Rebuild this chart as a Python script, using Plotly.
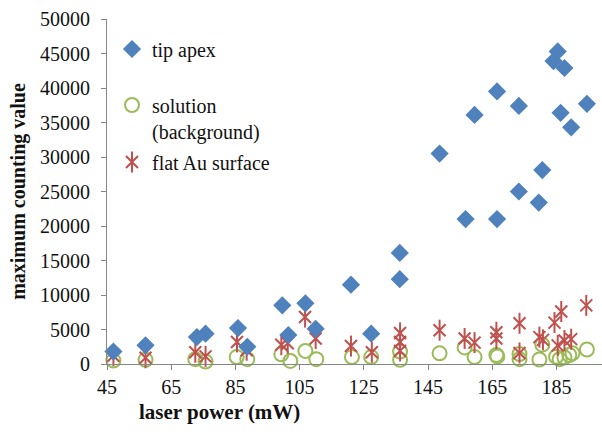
import plotly.graph_objects as go

# tip apex
tip_x = [47, 57, 73, 75.7, 85.8, 88.7, 99.6, 101.5, 106.8, 110, 121, 127.3, 136.2, 136.2,
         148.6, 156.7, 159.5, 166.5, 166.5, 173.3, 173.3, 179.5, 180.6, 184.1, 185.4, 186.3,
         187.5, 189.6, 194.5]
tip_y = [1800, 2700, 3900, 4400, 5200, 2500, 8500, 4200, 8800, 5100, 11500, 4400, 16100, 12300,
         30500, 21000, 36100, 21000, 39500, 25000, 37400, 23400, 28100, 43900, 45300, 36400,
         42900, 34300, 37700]

# solution (background)
sol_x = [47, 57, 72.5, 75.7, 85.4, 88.7, 99.3, 102.1, 106.8, 110.2, 121.3, 127.3, 136.3, 136.3,
         148.6, 156.4, 159.5, 166.3, 166.6, 173.5, 173.5, 179.7, 180.6, 184.9, 186, 187.5,
         189, 190, 194.5]
sol_y = [500, 600, 700, 350, 1000, 700, 1400, 450, 1900, 700, 1000, 1000, 1800, 600,
         1550, 2400, 1000, 1300, 1100, 1450, 700, 650, 2800, 1050, 700, 950,
         1300, 1550, 2100]

# flat Au surface
au_x = [47, 57, 72.5, 75.7, 85.5, 88.5, 99.3, 101.3, 106.7, 110, 121, 127.5, 136.3, 136.3, 136.3,
        148.6, 156.4, 159.5, 166.3, 166.3, 173.5, 173.5, 179.7, 180.8, 184.4, 186.5, 185.4,
        187.5, 189.6, 194.3]
au_y = [1200, 900, 1700, 1100, 3200, 2000, 2800, 3000, 6800, 3700, 2600, 1700, 4500, 3200, 1900,
        4900, 3700, 3100, 4600, 3700, 5900, 1600, 3900, 3500, 6000, 7600, 2700,
        3400, 3600, 8500]

x_ticks = [45, 65, 85, 105, 125, 145, 165, 185]
y_ticks = [0, 5000, 10000, 15000, 20000, 25000, 30000, 35000, 40000, 45000, 50000]

BLUE = "#4F81BD"
GREEN = "#9BBB59"
RED = "#C0504D"
AXIS = "#868686"
FONT = "Liberation Serif, Times New Roman, serif"

fig = go.Figure()
fig.add_trace(go.Scatter(
    x=sol_x, y=sol_y, mode="markers", name="solution<br>(background)", legend="legend2",
    showlegend=True,
    marker=dict(symbol="circle-open", size=14, color=GREEN, line=dict(width=2, color=GREEN)),
    cliponaxis=False))
fig.add_trace(go.Scatter(
    x=au_x, y=au_y, mode="markers", name="flat Au surface", legend="legend3",
    showlegend=True,
    marker=dict(symbol="x-thin-open", size=12, color=RED, line=dict(width=2, color=RED)),
    cliponaxis=False))
fig.add_trace(go.Scatter(
    x=au_x, y=au_y, mode="markers", name=" ", legend="legend4",
    showlegend=True,
    marker=dict(symbol="line-ns-open", size=15, color=RED, line=dict(width=2, color=RED)),
    cliponaxis=False))
fig.add_trace(go.Scatter(
    x=tip_x, y=tip_y, mode="markers", name="tip apex", legend="legend",
    showlegend=True,
    marker=dict(symbol="diamond", size=14, color=BLUE, line=dict(width=0)),
    cliponaxis=False))

L = 107
W = 602
H = 432
T = 19
B = 68
pw = W - L
ph = H - T - B

def px2paper_x(px):
    return (px - L) / pw

def py2paper_y(py):
    return (H - B - py) / ph

leg_common = dict(font=dict(family=FONT, size=20, color="#111111"), bgcolor="rgba(0,0,0,0)",
                  xanchor="left", yanchor="middle", borderwidth=0, itemclick=False,
                  visible=True)
lx = px2paper_x(112)
fig.update_layout(
    showlegend=True,
    legend=dict(x=lx, y=py2paper_y(49), **leg_common),
    legend2=dict(x=lx, y=py2paper_y(118), valign="top", **leg_common),
    legend3=dict(x=lx, y=py2paper_y(162), **leg_common),
    legend4=dict(x=lx, y=py2paper_y(162), **leg_common),
)

fig.update_layout(
    width=W, height=H,
    margin=dict(l=L, r=0, t=T, b=B),
    plot_bgcolor="white", paper_bgcolor="white",
    font=dict(family=FONT, size=20, color="#111111"),
    xaxis=dict(range=[45, 199.2], tickvals=x_ticks, ticktext=[str(v) for v in x_ticks],
               showgrid=False, zeroline=False, showline=True, linecolor=AXIS, linewidth=1,
               ticks="outside", ticklen=5, tickcolor=AXIS, ticklabelstandoff=0,
               tickfont=dict(family=FONT, size=20)),
    yaxis=dict(range=[0, 50000], tickvals=y_ticks, ticktext=[str(v) for v in y_ticks],
               showgrid=False, zeroline=False, showline=True, linecolor=AXIS, linewidth=1,
               ticks="outside", ticklen=5, tickcolor=AXIS, ticklabelstandoff=7,
               tickfont=dict(family=FONT, size=20),
               title=dict(text="<b>maximum counting value</b>", font=dict(family=FONT, size=20),
                          standoff=9)),
)
fig.add_annotation(text="<b>laser power (mW)</b>", xref="paper", yref="paper",
                   x=px2paper_x(219), y=py2paper_y(412), xanchor="center", yanchor="middle",
                   showarrow=False, font=dict(family=FONT, size=21, color="#111111"))

fig.write_html("out.html")
